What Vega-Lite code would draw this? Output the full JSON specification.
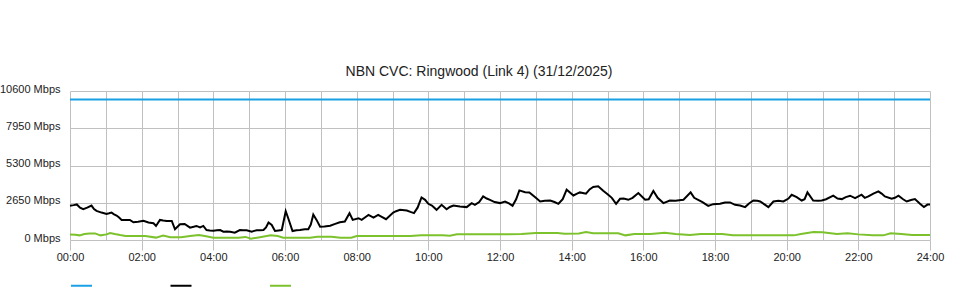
{
  "$schema": "https://vega.github.io/schema/vega-lite/v6.json",
  "autosize": "none",
  "width": 860,
  "height": 149,
  "padding": {"left": 70, "top": 91, "right": 30, "bottom": 60},
  "background": "#ffffff",
  "title": {"text": "NBN CVC: Ringwood (Link 4) (31/12/2025)", "font": "Liberation Sans", "fontSize": 14, "fontWeight": "normal", "color": "#222222", "anchor": "middle", "dx": -21, "dy": 21, "offset": 14, "baseline": "alphabetic"},
  "config": {"view": {"stroke": null}, "font": "Liberation Sans"},
  "datasets": {
    "cap": [{"h": 0, "v": 10000}, {"h": 24, "v": 10000}],
    "down": [
      {"h":0.00,"v":2440},{"h":0.10,"v":2480},{"h":0.19,"v":2530},{"h":0.28,"v":2300},{"h":0.37,"v":2190},{"h":0.48,"v":2300},{"h":0.60,"v":2450},{"h":0.67,"v":2200},{"h":0.74,"v":2070},{"h":0.88,"v":1950},
      {"h":1.02,"v":1860},{"h":1.09,"v":1900},{"h":1.16,"v":1950},{"h":1.23,"v":1830},{"h":1.30,"v":1740},{"h":1.37,"v":1600},{"h":1.44,"v":1430},{"h":1.55,"v":1430},{"h":1.67,"v":1430},{"h":1.77,"v":1260},{"h":1.90,"v":1300},
      {"h":2.05,"v":1360},{"h":2.19,"v":1240},{"h":2.33,"v":1190},{"h":2.40,"v":1000},{"h":2.51,"v":1430},{"h":2.60,"v":1380},{"h":2.70,"v":1360},{"h":2.84,"v":1360},{"h":2.93,"v":760},
      {"h":3.07,"v":1120},{"h":3.20,"v":1140},{"h":3.35,"v":880},{"h":3.45,"v":940},{"h":3.53,"v":1000},{"h":3.63,"v":900},{"h":3.72,"v":1000},{"h":3.81,"v":710},{"h":3.90,"v":680},
      {"h":4.00,"v":665},{"h":4.10,"v":700},{"h":4.19,"v":710},{"h":4.28,"v":590},{"h":4.38,"v":600},{"h":4.47,"v":590},{"h":4.60,"v":520},{"h":4.74,"v":710},{"h":4.84,"v":700},{"h":4.93,"v":690},
      {"h":5.07,"v":590},{"h":5.14,"v":650},{"h":5.21,"v":690},{"h":5.30,"v":700},{"h":5.40,"v":710},{"h":5.47,"v":900},{"h":5.54,"v":1240},{"h":5.63,"v":1070},{"h":5.72,"v":640},{"h":5.82,"v":680},{"h":5.91,"v":710},
      {"h":6.02,"v":2050},{"h":6.09,"v":1550},{"h":6.21,"v":640},{"h":6.32,"v":700},{"h":6.42,"v":710},{"h":6.55,"v":760},{"h":6.65,"v":760},{"h":6.72,"v":1100},{"h":6.79,"v":1810},{"h":6.88,"v":1430},{"h":6.98,"v":950},
      {"h":7.10,"v":960},{"h":7.26,"v":1020},{"h":7.40,"v":1150},{"h":7.53,"v":1260},{"h":7.67,"v":1310},{"h":7.80,"v":1910},{"h":7.89,"v":1430},
      {"h":8.05,"v":1550},{"h":8.14,"v":1430},{"h":8.25,"v":1640},{"h":8.33,"v":1790},{"h":8.47,"v":1600},{"h":8.60,"v":1790},{"h":8.70,"v":1650},{"h":8.82,"v":1480},
      {"h":9.02,"v":1950},{"h":9.10,"v":2050},{"h":9.21,"v":2145},{"h":9.40,"v":2100},{"h":9.50,"v":2000},{"h":9.60,"v":1910},{"h":9.70,"v":2300},{"h":9.81,"v":3030},{"h":9.91,"v":2860},
      {"h":10.00,"v":2575},{"h":10.10,"v":2450},{"h":10.23,"v":2145},{"h":10.37,"v":2500},{"h":10.51,"v":2190},{"h":10.60,"v":2350},{"h":10.70,"v":2455},{"h":10.88,"v":2380},
      {"h":11.07,"v":2340},{"h":11.21,"v":2625},{"h":11.30,"v":2500},{"h":11.42,"v":2700},{"h":11.53,"v":3100},{"h":11.63,"v":2950},{"h":11.72,"v":2860},{"h":11.85,"v":2700},
      {"h":12.00,"v":2625},{"h":12.14,"v":2740},{"h":12.25,"v":2600},{"h":12.35,"v":2430},{"h":12.45,"v":2900},{"h":12.54,"v":3530},{"h":12.70,"v":3400},{"h":12.82,"v":3385},
      {"h":13.00,"v":3000},{"h":13.12,"v":2740},{"h":13.25,"v":2800},{"h":13.40,"v":2810},{"h":13.52,"v":2700},{"h":13.63,"v":2575},{"h":13.75,"v":2900},{"h":13.86,"v":3580},
      {"h":14.05,"v":3170},{"h":14.15,"v":3300},{"h":14.23,"v":3385},{"h":14.40,"v":3290},{"h":14.50,"v":3600},{"h":14.60,"v":3770},{"h":14.74,"v":3815},{"h":14.88,"v":3500},
      {"h":15.02,"v":3220},{"h":15.12,"v":3000},{"h":15.24,"v":2575},{"h":15.35,"v":2930},{"h":15.45,"v":2950},{"h":15.58,"v":2860},{"h":15.70,"v":3000},{"h":15.86,"v":3340},
      {"h":16.05,"v":2860},{"h":16.15,"v":2900},{"h":16.28,"v":3485},{"h":16.40,"v":3000},{"h":16.56,"v":2625},{"h":16.74,"v":2810},{"h":16.90,"v":2800},
      {"h":17.00,"v":2830},{"h":17.12,"v":2860},{"h":17.32,"v":3385},{"h":17.42,"v":3000},{"h":17.53,"v":2860},{"h":17.65,"v":2700},{"h":17.81,"v":2430},{"h":17.95,"v":2550},
      {"h":18.14,"v":2575},{"h":18.28,"v":2670},{"h":18.42,"v":2670},{"h":18.56,"v":2500},{"h":18.70,"v":2450},{"h":18.84,"v":2340},{"h":18.95,"v":2600},
      {"h":19.07,"v":2810},{"h":19.18,"v":2790},{"h":19.26,"v":2740},{"h":19.40,"v":2500},{"h":19.49,"v":2340},{"h":19.63,"v":2740},{"h":19.77,"v":2800},{"h":19.91,"v":2740},
      {"h":20.05,"v":2950},{"h":20.14,"v":3220},{"h":20.28,"v":3050},{"h":20.42,"v":2810},{"h":20.50,"v":2900},{"h":20.58,"v":3385},{"h":20.74,"v":2810},{"h":20.88,"v":2800},{"h":20.98,"v":2810},
      {"h":21.10,"v":2900},{"h":21.30,"v":3150},{"h":21.42,"v":2950},{"h":21.54,"v":2910},{"h":21.65,"v":3050},{"h":21.77,"v":3150},{"h":21.91,"v":2980},
      {"h":22.09,"v":3220},{"h":22.18,"v":3000},{"h":22.28,"v":3100},{"h":22.42,"v":3300},{"h":22.56,"v":3460},{"h":22.65,"v":3300},{"h":22.74,"v":3100},{"h":22.93,"v":2930},
      {"h":23.02,"v":3000},{"h":23.12,"v":3150},{"h":23.25,"v":2900},{"h":23.35,"v":2740},{"h":23.47,"v":2850},{"h":23.58,"v":2910},{"h":23.72,"v":2575},{"h":23.83,"v":2340},{"h":23.93,"v":2520},{"h":24.00,"v":2520}
    ],
    "up": [
      {"h":0.00,"v":400},{"h":0.15,"v":380},{"h":0.27,"v":330},{"h":0.40,"v":420},{"h":0.55,"v":470},{"h":0.70,"v":470},{"h":0.85,"v":330},{"h":1.02,"v":400},{"h":1.12,"v":500},{"h":1.25,"v":420},{"h":1.40,"v":350},{"h":1.55,"v":290},{"h":1.80,"v":285},
      {"h":2.10,"v":285},{"h":2.40,"v":170},{"h":2.60,"v":310},{"h":2.80,"v":200},{"h":3.10,"v":200},{"h":3.35,"v":280},{"h":3.60,"v":350},{"h":3.80,"v":260},{"h":4.00,"v":165},{"h":4.40,"v":165},{"h":4.70,"v":165},{"h":4.90,"v":220},
      {"h":5.05,"v":95},{"h":5.30,"v":200},{"h":5.60,"v":330},{"h":5.80,"v":280},{"h":5.95,"v":165},{"h":6.20,"v":165},{"h":6.50,"v":165},{"h":6.70,"v":165},{"h":6.90,"v":235},{"h":7.30,"v":235},{"h":7.55,"v":165},{"h":7.85,"v":165},
      {"h":8.00,"v":285},{"h":9.00,"v":285},{"h":9.50,"v":285},{"h":9.80,"v":330},{"h":10.40,"v":330},{"h":10.60,"v":300},{"h":10.80,"v":405},{"h":11.50,"v":405},{"h":12.00,"v":405},{"h":12.60,"v":430},
      {"h":13.00,"v":500},{"h":13.60,"v":500},{"h":13.80,"v":450},{"h":14.20,"v":470},{"h":14.40,"v":570},{"h":14.60,"v":475},{"h":15.30,"v":475},{"h":15.50,"v":330},{"h":15.75,"v":425},{"h":16.20,"v":425},{"h":16.60,"v":520},{"h":16.90,"v":425},
      {"h":17.30,"v":355},{"h":17.60,"v":425},{"h":18.20,"v":425},{"h":18.50,"v":330},{"h":19.50,"v":330},{"h":20.20,"v":330},{"h":20.40,"v":425},{"h":20.75,"v":570},{"h":21.00,"v":550},{"h":21.40,"v":425},{"h":21.70,"v":475},
      {"h":22.00,"v":400},{"h":22.40,"v":330},{"h":22.70,"v":330},{"h":22.90,"v":475},{"h":23.20,"v":425},{"h":23.50,"v":355},{"h":24.00,"v":355}
    ]
  },
  "encoding": {
    "x": {"field": "h", "type": "quantitative", "scale": {"domain": [0, 24], "nice": false, "zero": false},
      "axis": {"title": null, "values": [0,1,2,3,4,5,6,7,8,9,10,11,12,13,14,15,16,17,18,19,20,21,22,23,24],
        "domain": false, "grid": true, "gridColor": "#c0c0c0", "gridWidth": 1, "gridOpacity": 1,
        "tickColor": "#c0c0c0", "tickSize": 10, "tickOpacity": {"expr": "datum.value % 2 === 0 ? 1 : 0"},
        "labelExpr": "datum.value % 2 === 0 ? (datum.value < 10 ? '0' : '') + datum.value + ':00' : ''",
        "labelFont": "Liberation Sans", "labelFontSize": 11, "labelColor": "#222222", "labelPadding": 1, "labelFlush": false, "labelOverlap": false}},
    "y": {"field": "v", "type": "quantitative", "scale": {"domain": [0, 10600], "nice": false},
      "axis": {"title": null, "values": [0, 2650, 5300, 7950, 10600], "domain": false, "ticks": false,
        "grid": true, "gridColor": "#c0c0c0", "gridWidth": 1, "gridOpacity": 1,
        "labelExpr": "datum.value + ' Mbps'", "labelFont": "Liberation Sans", "labelFontSize": 11, "labelColor": "#222222", "labelPadding": 10, "labelOffset": -2}},
    "color": {"field": "s", "type": "nominal",
      "scale": {"domain": ["CVC capacity", "Download", "Upload"], "range": ["#1aa1e4", "#000000", "#7cc22c"]},
      "legend": {"title": null, "orient": "none", "legendX": 0, "legendY": 183, "direction": "horizontal",
        "symbolType": "stroke", "symbolSize": 441, "symbolStrokeWidth": 2, "labelExpr": "''", "labelOffset": 0, "columnPadding": 70.5}}
  },
  "layer": [
    {"data": {"name": "cap"}, "transform": [{"calculate": "'CVC capacity'", "as": "s"}], "mark": {"type": "line", "strokeWidth": 2}},
    {"data": {"name": "up"}, "transform": [{"calculate": "'Upload'", "as": "s"}], "mark": {"type": "line", "strokeWidth": 2}},
    {"data": {"name": "down"}, "transform": [{"calculate": "'Download'", "as": "s"}], "mark": {"type": "line", "strokeWidth": 2}}
  ]
}
